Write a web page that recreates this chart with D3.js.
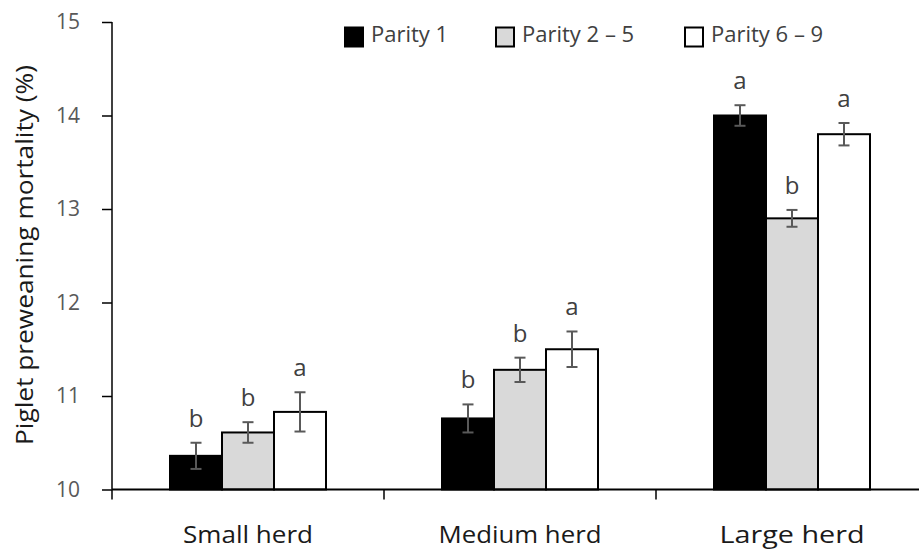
<!DOCTYPE html>
<html><head><meta charset="utf-8">
<script src="https://cdn.jsdelivr.net/npm/d3@7"></script>
<style>body{margin:0;background:#fff;}svg{display:block;}</style>
</head><body>
<script>
const categories = ["Small herd", "Medium herd", "Large herd"];
const seriesNames = ["Parity 1", "Parity 2 \u2013 5", "Parity 6 \u2013 9"];
const parity1 = [10.36, 10.76, 14.00];
const parity2to5 = [10.61, 11.28, 12.90];
const parity6to9 = [10.83, 11.50, 13.80];
const err1 = [0.14, 0.15, 0.11];
const err2to5 = [0.11, 0.13, 0.09];
const err6to9 = [0.21, 0.19, 0.12];
const letters1 = ["b", "b", "a"];
const letters2to5 = ["b", "b", "b"];
const letters6to9 = ["a", "a", "a"];
const yTicks = [10, 11, 12, 13, 14, 15];
const yLabel = "Piglet preweaning mortality (%)";

const W = 919, H = 551;
const fills = ["#000000", "#d9d9d9", "#ffffff"];
const values = [parity1, parity2to5, parity6to9];
const errs = [err1, err2to5, err6to9];
const letters = [letters1, letters2to5, letters6to9];
const catLens = [130, 163, 145];

const svg = d3.select("body").append("svg").attr("width", W).attr("height", H);
const font = "'Open Sans', sans-serif";

const x0 = d3.scaleBand().domain(categories).range([112, 928]).paddingInner(0).paddingOuter(0);
const x1 = d3.scaleBand().domain(seriesNames).range([0, 156]);
const y = d3.scaleLinear().domain([10, 15]).range([489.5, 22]);

const groupOffset = (x0.bandwidth() - 156) / 2;

// bars
categories.forEach((c, ci) => {
  seriesNames.forEach((s, si) => {
    const bx = x0(c) + groupOffset + x1(s);
    const v = values[si][ci];
    svg.append("rect")
      .attr("x", bx).attr("y", y(v))
      .attr("width", x1.bandwidth()).attr("height", y(10) - y(v))
      .attr("fill", fills[si]).attr("stroke", "#000").attr("stroke-width", 2);
  });
});

// error bars and letters
categories.forEach((c, ci) => {
  seriesNames.forEach((s, si) => {
    const cx = x0(c) + groupOffset + x1(s) + x1.bandwidth() / 2;
    const v = values[si][ci], e = errs[si][ci];
    const g = svg.append("g").attr("stroke", "#595959").attr("stroke-width", 2);
    g.append("line").attr("x1", cx).attr("x2", cx).attr("y1", y(v + e)).attr("y2", y(v - e));
    g.append("line").attr("x1", cx - 5.5).attr("x2", cx + 5.5).attr("y1", y(v + e)).attr("y2", y(v + e));
    g.append("line").attr("x1", cx - 5.5).attr("x2", cx + 5.5).attr("y1", y(v - e)).attr("y2", y(v - e));
    svg.append("text").attr("x", cx).attr("y", y(v + e) - 16)
      .attr("text-anchor", "middle").attr("font-family", font).attr("font-size", 24)
      .attr("fill", "#404040").text(letters[si][ci]);
  });
});

// y axis
const yAxis = svg.append("g").attr("transform", "translate(112,0)")
  .call(d3.axisLeft(y).tickValues(yTicks).tickSize(10).tickPadding(22).tickFormat(d3.format("d")));
yAxis.select(".domain").attr("stroke", "#000").attr("stroke-width", 1.5).attr("d", "M0,22V489.5");
yAxis.selectAll(".tick line").attr("stroke", "#000").attr("stroke-width", 1.5);
yAxis.selectAll(".tick text").attr("font-family", font).attr("font-size", 21).attr("fill", "#595959");

// x axis
const xAxis = svg.append("g").attr("transform", "translate(0,489.5)")
  .call(d3.axisBottom(x0).tickSize(0).tickFormat(""));
xAxis.select(".domain").attr("stroke", "#000").attr("stroke-width", 2).attr("d", "M112,0H928");
[112, 384, 656].forEach(t => {
  xAxis.append("line").attr("x1", t).attr("x2", t).attr("y1", 0).attr("y2", 10)
    .attr("stroke", "#000").attr("stroke-width", 1.5);
});
xAxis.selectAll(".catlabel").data(categories).enter().append("text")
  .attr("x", d => x0(d) + x0.bandwidth() / 2).attr("y", 53)
  .attr("text-anchor", "middle").attr("font-family", font).attr("font-size", 23)
  .attr("textLength", (d, i) => catLens[i]).attr("lengthAdjust", "spacingAndGlyphs")
  .attr("fill", "#1a1a1a").text(d => d);

// y label
svg.append("text").attr("transform", "translate(33,255) rotate(-90)")
  .attr("text-anchor", "middle").attr("font-family", font).attr("font-size", 23)
  .attr("textLength", 380).attr("lengthAdjust", "spacingAndGlyphs")
  .attr("fill", "#1a1a1a").text(yLabel);

// legend
const legX = [344, 495, 684];
seriesNames.forEach((s, i) => {
  svg.append("rect").attr("x", legX[i] + 1).attr("y", 27.5).attr("width", 18).attr("height", 19)
    .attr("fill", fills[i]).attr("stroke", "#000").attr("stroke-width", 2);
  svg.append("text").attr("x", legX[i] + 27).attr("y", 42)
    .attr("font-family", font).attr("font-size", 22).attr("fill", "#404040").text(s);
});
</script>
</body></html>
